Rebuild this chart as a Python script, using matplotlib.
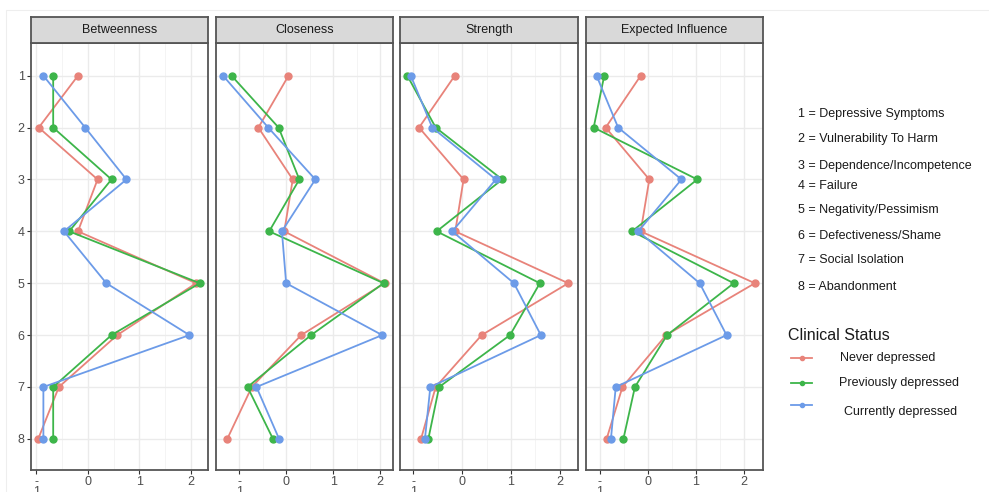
import numpy as np
import matplotlib
matplotlib.use("Agg")
import matplotlib.pyplot as plt
from matplotlib.lines import Line2D
from matplotlib.patches import Rectangle

plt.rcParams['font.family'] = ['Liberation Sans', 'DejaVu Sans']

# node numbers and their names
nodes = [1, 2, 3, 4, 5, 6, 7, 8]
node_names = ["Depressive Symptoms", "Vulnerability To Harm", "Dependence/Incompetence",
              "Failure", "Negativity/Pessimism", "Defectiveness/Shame",
              "Social Isolation", "Abandonment"]

groups = ["Never depressed", "Previously depressed", "Currently depressed"]
panels = ["Betweenness", "Closeness", "Strength", "Expected Influence"]

# centrality z-scores (never, previously, currently)
betweenness_never = [-0.19, -0.95, 0.19, -0.19, 2.10, 0.57, -0.56, -0.96]
betweenness_prev  = [-0.67, -0.67, 0.46, -0.36, 2.17, 0.46, -0.67, -0.67]
betweenness_curr  = [-0.86, -0.05, 0.75, -0.46, 0.36, 1.97, -0.86, -0.86]

closeness_never = [0.05, -0.59, 0.14, -0.04, 2.09, 0.32, -0.73, -1.25]
closeness_prev  = [-1.16, -0.16, 0.28, -0.36, 2.07, 0.53, -0.82, -0.28]
closeness_curr  = [-1.34, -0.38, 0.62, -0.09, 0.00, 2.04, -0.63, -0.15]

strength_never = [-0.15, -0.88, 0.03, -0.14, 2.17, 0.40, -0.54, -0.84]
strength_prev  = [-1.12, -0.54, 0.82, -0.52, 1.59, 0.98, -0.47, -0.69]
strength_curr  = [-1.05, -0.61, 0.69, -0.20, 1.06, 1.61, -0.65, -0.76]

ei_never = [-0.15, -0.88, 0.03, -0.15, 2.23, 0.38, -0.53, -0.86]
ei_prev  = [-0.91, -1.13, 1.03, -0.33, 1.79, 0.40, -0.27, -0.51]
ei_curr  = [-1.07, -0.62, 0.70, -0.20, 1.08, 1.64, -0.67, -0.77]

data = [
    [betweenness_never, betweenness_prev, betweenness_curr],
    [closeness_never, closeness_prev, closeness_curr],
    [strength_never, strength_prev, strength_curr],
    [ei_never, ei_prev, ei_curr],
]

colors = ["#E8837A", "#3DB54A", "#6C9BE8"]
xlims = [(-1.10, 2.33), (-1.49, 2.27), (-1.27, 2.37), (-1.29, 2.40)]
xticks = [-1, 0, 1, 2]
xticklabels = ["-\n1", "0", "1", "2"]

W, H = 989, 492
fig = plt.figure(figsize=(W / 100, H / 100), dpi=100)

# faint screenshot frame
fig.patches.append(Rectangle((6 / W, -0.1), 1.2, 1 - 10 / H + 0.1, transform=fig.transFigure,
                             fill=False, edgecolor="#EEEEEE", lw=0.8))

lefts = [31, 216, 400, 586]
rights = [208, 393, 578, 763]
top_px, strip_top, bottom_px = 43, 17, 470
border = "#555555"
tickcol = "#4D4D4D"

for i in range(4):
    x0 = lefts[i] / W
    w = (rights[i] - lefts[i]) / W
    ax = fig.add_axes([x0, 1 - bottom_px / H, w, (bottom_px - top_px) / H])
    ax.set_xticks(xticks)
    ax.set_xticklabels(xticklabels, linespacing=0.72)
    ax.set_xticks(np.arange(-1.5, 2.6, 1.0), minor=True)
    ax.set_yticks(nodes)
    ax.set_xlim(xlims[i])
    ax.set_ylim(8.6, 0.37)
    ax.grid(which="major", color="#EBEBEB", lw=1.0)
    ax.grid(which="minor", axis="x", color="#F2F2F2", lw=0.6)
    ax.set_axisbelow(True)
    ax.tick_params(which="minor", length=0)
    ax.tick_params(which="major", length=3, color="#333333", labelcolor=tickcol,
                   labelsize=9, pad=1.5)
    if i > 0:
        ax.tick_params(axis="y", labelleft=False, length=0)
    for s in ax.spines.values():
        s.set_color(border)
        s.set_linewidth(1.3)
    for g in range(3):
        ax.plot(data[i][g], nodes, color=colors[g], lw=1.3, marker="o", markersize=5,
                zorder=3 + g)

    # strip on top
    sax = fig.add_axes([x0, 1 - top_px / H, w, (top_px - strip_top) / H])
    sax.set_facecolor("#D9D9D9")
    sax.set_xticks([])
    sax.set_yticks([])
    for s in sax.spines.values():
        s.set_color(border)
        s.set_linewidth(1.3)
    sax.text(0.5, 0.5, panels[i], ha="center", va="center", fontsize=9,
             color="#1A1A1A", transform=sax.transAxes)

# node key
key_y = [114, 139, 166, 186, 210, 236, 260, 287]
for n, name, y in zip(nodes, node_names, key_y):
    fig.text(798 / W, 1 - y / H, f"{n} = {name}", fontsize=9, color="#1A1A1A",
             va="center", ha="left")

# clinical status legend
fig.text(788 / W, 1 - 335 / H, "Clinical Status", fontsize=11.5, color="#1A1A1A",
         va="center", ha="left")
line_y = [358, 383, 405]
text_pos = [(840, 358), (839, 383), (844, 412)]
for g in range(3):
    y = 1 - line_y[g] / H
    fig.add_artist(Line2D([791 / W, 812 / W], [y, y], transform=fig.transFigure,
                          color=colors[g], lw=1.3))
    fig.add_artist(Line2D([801.5 / W], [y], transform=fig.transFigure,
                          color=colors[g], marker="o", markersize=3))
    tx, ty = text_pos[g]
    fig.text(tx / W, 1 - ty / H, groups[g], fontsize=9, color="#1A1A1A",
             va="center", ha="left")

fig.savefig("out.png", dpi=100)
